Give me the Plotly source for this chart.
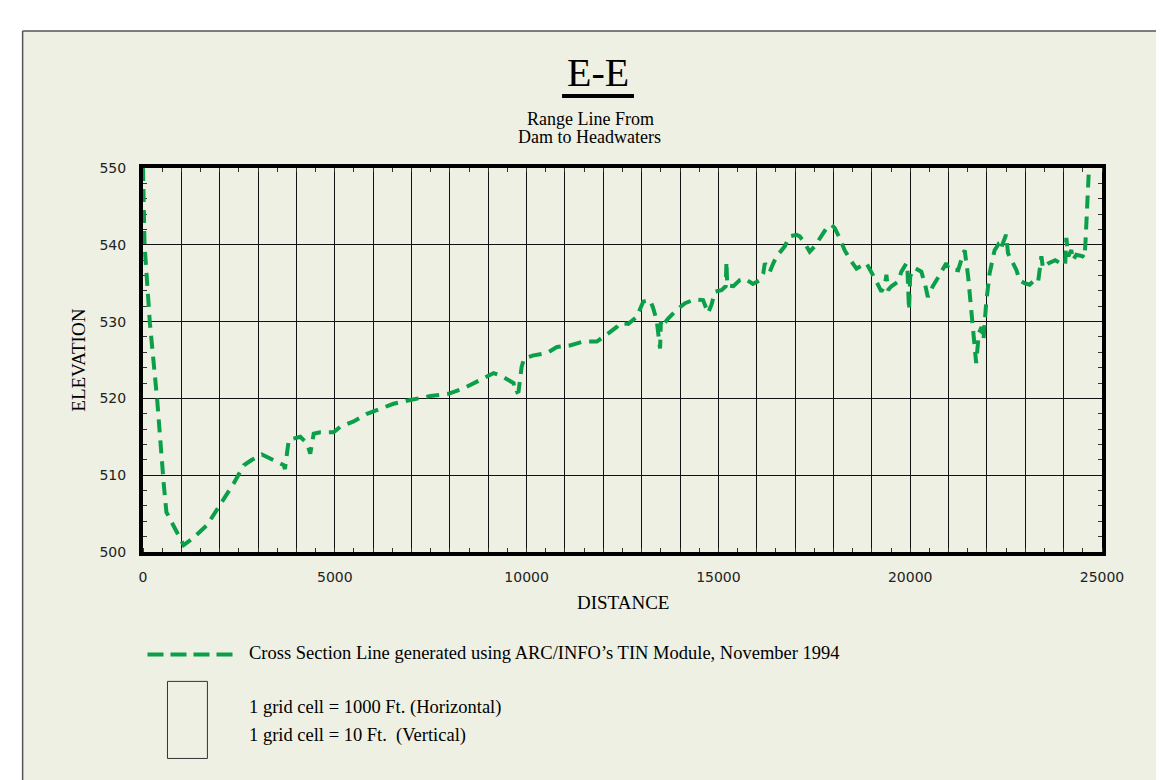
import plotly.graph_objects as go

# distance along the range line (ft) and ground elevation (ft)
distancia = [0, 40, 180, 370, 540, 610, 1060, 1280, 1670, 2020, 2100, 2360, 2630, 2840,
             3100, 3410, 3670, 3700, 3800, 4100, 4280, 4360, 4450, 4620, 4970, 5140, 5490,
             5840, 6180, 6530, 6970, 7490, 7960, 8350, 8790, 9140, 9310, 9660, 9700, 9790,
             9870, 9935, 10180, 10530, 10790, 11130, 11480, 11830, 12000, 12350, 12430,
             12650, 12870, 13040, 13220, 13290, 13390, 13440, 13480, 13500, 13520, 13690,
             13910, 14130, 14390, 14600, 14730, 14820, 14910, 15080, 15190, 15210, 15230,
             15390, 15560, 15690, 15900, 16080, 16170, 16210, 16340, 16430, 16520, 16730,
             16860, 17040, 17120, 17250, 17380, 17510, 17640, 17820, 17950, 18030, 18160,
             18290, 18470, 18600, 18860, 18990, 19120, 19250, 19340, 19380, 19420, 19510,
             19680, 19770, 19900, 19930, 19970, 20000, 20120, 20290, 20380, 20460, 20590,
             20770, 20940, 21000, 21250, 21330, 21420, 21510, 21590, 21650, 21720, 21790,
             21860, 21910, 21980, 22070, 22200, 22240, 22290, 22370, 22400, 22500, 22550,
             22680, 22770, 22850, 22980, 23110, 23200, 23330, 23370, 23420, 23460, 23610,
             23780, 23910, 24040, 24070, 24120, 24200, 24240, 24330, 24500, 24545, 24570,
             24590, 24630, 24660]
elevacao = [550, 540, 529.8, 519.8, 508.9, 505.2, 500.9, 501.7, 503.5, 506.3, 506.7, 508.9,
            511.3, 512, 512.7, 512, 511.3, 510.8, 514.6, 515, 514.1, 512.8, 515.4, 515.6,
            515.6, 516.3, 517, 518, 518.7, 519.3, 519.8, 520.3, 520.6, 521.3, 522.4, 523.3,
            523, 522, 520.7, 520.9, 524.1, 525.2, 525.6, 525.9, 526.7, 526.9, 527.4, 527.4,
            528, 529.3, 529.8, 529.7, 530.6, 532.6, 532.8, 531.9, 530.2, 528.5, 526.5, 530,
            529.3, 530.4, 531.5, 532.4, 532.9, 532.8, 531.1, 532.2, 533.9, 534.1, 534.6,
            537.8, 534.7, 534.6, 535.4, 535.6, 534.9, 535.4, 536.3, 537.6, 536.5, 537.6,
            538.5, 539.8, 541.1, 541.3, 541.1, 540.2, 539.1, 539.8, 540.9, 542.2, 542.6,
            542.2, 540.9, 539.3, 537.8, 536.9, 537.6, 536.5, 535.2, 533.9, 534.8, 536.1,
            534.1, 534.6, 535.2, 536.5, 537.6, 536.5, 531.5, 535.9, 537, 536.5, 535, 533.2,
            534.6, 536.1, 537.6, 536.9, 536.7, 538, 539.3, 535.9, 531.9, 528.5, 524.6,
            528.5, 529.3, 527.6, 532.4, 536.3, 539.3, 539.6, 540, 539.3, 540, 541.3, 538.9,
            537.6, 536.7, 535.4, 535, 534.8, 535.2, 535, 536.3, 538.5, 537, 537.6, 538,
            537.6, 537.4, 540.9, 538.5, 539.3, 538, 538.7, 538.5, 538.3, 540.4, 543.2,
            546.7, 550]

ticks_x = list(range(0, 25001, 1000))
rotulos_x = [str(v) if v % 5000 == 0 else "" for v in ticks_x]

verde = "#0a9f48"
bege = "#edf0e3"
serif = "Liberation Serif, Times New Roman, serif"

# screen size and plot area in screen pixels (page body adds an 8px margin)
TELA_W, TELA_H, OFF = 1164, 780, 8
L, R, T, B = 142.5, 1102.5, 168, 551.7
W, H = TELA_W - OFF, TELA_H - OFF


def fx(px):
    return (px - L) / (R - L)


def fy(py):
    return (B - py) / (B - T)


fig = go.Figure()
fig.add_trace(go.Scatter(x=distancia, y=elevacao, mode="lines",
                         line=dict(color=verde, width=4, dash="13px,8px"),
                         showlegend=False, hoverinfo="x+y"))

eixo = dict(showgrid=True, gridcolor="#111", gridwidth=1,
            showline=True, linecolor="black", linewidth=4, mirror="allticks",
            zeroline=False, ticks="", layer="below traces",
            tickfont=dict(family="DejaVu Sans", size=14, color="#222"))

fig.update_xaxes(range=[0, 25000], tickmode="array", tickvals=ticks_x, ticktext=rotulos_x,
                 ticklabelstandoff=9,
                 minor=dict(dtick=500, tick0=0, ticks="inside", ticklen=4,
                            tickcolor="#333", showgrid=False), **eixo)
fig.update_yaxes(range=[500, 550], dtick=10, ticklabelstandoff=10,
                 minor=dict(dtick=2, tick0=500, ticks="inside", ticklen=4,
                            tickcolor="#333", showgrid=False), **eixo)

# white page edge above and left of the panel, with the panel border
fig.add_shape(type="rect", xref="paper", yref="paper", layer="below",
              x0=fx(-10), x1=fx(1200), y0=fy(31), y1=fy(-10),
              fillcolor="white", line_width=0)
fig.add_shape(type="rect", xref="paper", yref="paper", layer="below",
              x0=fx(-10), x1=fx(22), y0=fy(800), y1=fy(31),
              fillcolor="white", line_width=0)
fig.add_shape(type="line", xref="paper", yref="paper",
              x0=fx(22), x1=fx(1200), y0=fy(31), y1=fy(31),
              line=dict(color="#555", width=1.5))
fig.add_shape(type="line", xref="paper", yref="paper",
              x0=fx(22), x1=fx(22), y0=fy(800), y1=fy(31),
              line=dict(color="#555", width=1.5))
# title underline, legend sample and scale box
fig.add_shape(type="line", xref="paper", yref="paper",
              x0=fx(562), x1=fx(634), y0=fy(96), y1=fy(96),
              line=dict(color="black", width=4))
fig.add_shape(type="line", xref="paper", yref="paper",
              x0=fx(147), x1=fx(233), y0=fy(654), y1=fy(654),
              line=dict(color=verde, width=4, dash="16px,7px"))
fig.add_shape(type="rect", xref="paper", yref="paper",
              x0=fx(167), x1=fx(207), y0=fy(758), y1=fy(681),
              line=dict(color="#333", width=1))

textos = [
    ("E-E", 598, 73, 40, "center", 0),
    ("Range Line From", 590, 119, 18, "center", 0),
    ("Dam to Headwaters", 589, 137, 18, "center", 0),
    ("DISTANCE", 622.5, 602, 19, "center", 0),
    ("ELEVATION", 78, 360, 19, "center", -90),
    ("Cross Section Line generated using ARC/INFO\u2019s TIN Module, November 1994", 247, 653, 18.5, "left", 0),
    ("1 grid cell = 1000 Ft. (Horizontal)", 247, 707, 18.5, "left", 0),
    ("1 grid cell = 10 Ft.&nbsp; (Vertical)", 247, 735, 18.5, "left", 0),
]
for txt, px, py, tam, anc, ang in textos:
    fig.add_annotation(text=txt, xref="paper", yref="paper", x=fx(px), y=fy(py),
                       xanchor=anc, yanchor="middle", showarrow=False, textangle=ang,
                       font=dict(family=serif, size=tam, color="black"))

fig.update_layout(width=W, height=H, paper_bgcolor=bege, plot_bgcolor=bege,
                  margin=dict(l=L - OFF, r=TELA_W - R, t=T - OFF, b=TELA_H - B, pad=0))

fig.write_html("out.html")
